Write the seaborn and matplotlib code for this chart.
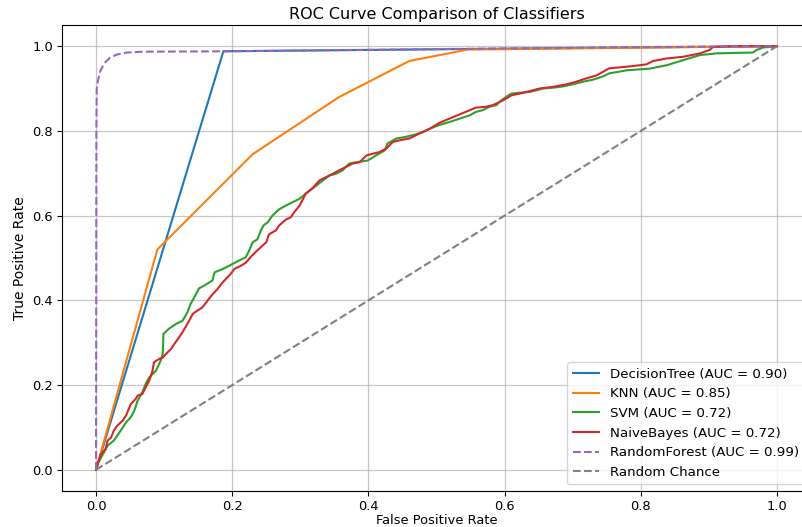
import matplotlib
matplotlib.use("Agg")
import matplotlib.pyplot as plt
import seaborn as sns
import pandas as pd

# ---------------- data ----------------
classifiers = ["DecisionTree", "KNN", "SVM", "NaiveBayes", "RandomForest"]
auc_values = [0.90, 0.85, 0.72, 0.72, 0.99]

dt_fpr = [0.0, 0.187, 1.0]
dt_tpr = [0.0, 0.988, 1.0]

knn_fpr = [0.0, 0.09, 0.23, 0.357, 0.46, 0.546, 1.0]
knn_tpr = [0.0, 0.52, 0.745, 0.88, 0.965, 0.992, 1.0]

svm_fpr = [0.0, 0.002, 0.017, 0.026, 0.036, 0.044, 0.051, 0.056, 0.061, 0.068,
           0.073, 0.078, 0.088, 0.095, 0.098, 0.099, 0.107, 0.117, 0.127, 0.134,
           0.139, 0.147, 0.151, 0.161, 0.171, 0.174, 0.186, 0.196, 0.210, 0.220,
           0.225, 0.230, 0.237, 0.242, 0.246, 0.252, 0.259, 0.269, 0.279, 0.289,
           0.299, 0.308, 0.318, 0.333, 0.343, 0.353, 0.362, 0.372, 0.382, 0.399,
           0.411, 0.424, 0.428, 0.441, 0.455, 0.470, 0.480, 0.490, 0.504, 0.519,
           0.534, 0.549, 0.558, 0.568, 0.578, 0.588, 0.595, 0.602, 0.610, 0.622,
           0.637, 0.647, 0.656, 0.671, 0.686, 0.700, 0.715, 0.730, 0.745, 0.754,
           0.769, 0.779, 0.813, 0.838, 0.862, 0.887, 0.911, 0.936, 0.965, 0.970,
           0.980, 1.0]
svm_tpr = [0.0, 0.013, 0.057, 0.069, 0.092, 0.112, 0.124, 0.139, 0.163, 0.183,
           0.203, 0.218, 0.234, 0.258, 0.274, 0.321, 0.333, 0.344, 0.352, 0.371,
           0.392, 0.415, 0.428, 0.437, 0.447, 0.466, 0.474, 0.482, 0.494, 0.502,
           0.518, 0.537, 0.544, 0.565, 0.577, 0.584, 0.600, 0.615, 0.624, 0.632,
           0.640, 0.652, 0.664, 0.683, 0.695, 0.699, 0.707, 0.723, 0.726, 0.730,
           0.742, 0.754, 0.770, 0.782, 0.786, 0.792, 0.797, 0.805, 0.814, 0.821,
           0.829, 0.837, 0.845, 0.849, 0.857, 0.861, 0.872, 0.880, 0.888, 0.890,
           0.892, 0.896, 0.900, 0.902, 0.905, 0.910, 0.916, 0.921, 0.929, 0.936,
           0.940, 0.943, 0.947, 0.955, 0.967, 0.979, 0.983, 0.984, 0.985, 0.991,
           0.997, 1.0]

nb_fpr = [0.0, 0.001, 0.007, 0.014, 0.017, 0.022, 0.026, 0.031, 0.039, 0.044,
          0.051, 0.058, 0.061, 0.068, 0.073, 0.078, 0.083, 0.085, 0.093, 0.098,
          0.103, 0.110, 0.115, 0.122, 0.127, 0.134, 0.142, 0.149, 0.156, 0.164,
          0.171, 0.178, 0.184, 0.191, 0.198, 0.203, 0.213, 0.220, 0.228, 0.235,
          0.245, 0.250, 0.254, 0.264, 0.269, 0.279, 0.286, 0.291, 0.299, 0.308,
          0.318, 0.328, 0.338, 0.348, 0.357, 0.367, 0.377, 0.387, 0.397, 0.406,
          0.416, 0.426, 0.436, 0.446, 0.460, 0.475, 0.490, 0.504, 0.519, 0.534,
          0.549, 0.558, 0.573, 0.583, 0.595, 0.602, 0.610, 0.622, 0.637, 0.651,
          0.671, 0.691, 0.705, 0.720, 0.735, 0.744, 0.754, 0.769, 0.788, 0.808,
          0.818, 0.838, 0.862, 0.887, 0.901, 0.906, 0.936, 1.0]
nb_tpr = [0.0, 0.007, 0.037, 0.049, 0.069, 0.076, 0.092, 0.104, 0.116, 0.128,
          0.155, 0.167, 0.175, 0.179, 0.195, 0.210, 0.234, 0.254, 0.262, 0.265,
          0.274, 0.285, 0.297, 0.313, 0.325, 0.344, 0.368, 0.376, 0.383, 0.400,
          0.414, 0.426, 0.439, 0.451, 0.463, 0.474, 0.482, 0.489, 0.504, 0.515,
          0.530, 0.537, 0.556, 0.565, 0.577, 0.591, 0.596, 0.608, 0.624, 0.652,
          0.665, 0.683, 0.691, 0.699, 0.707, 0.715, 0.723, 0.726, 0.742, 0.746,
          0.750, 0.758, 0.774, 0.778, 0.782, 0.794, 0.805, 0.819, 0.829, 0.839,
          0.849, 0.855, 0.857, 0.861, 0.870, 0.876, 0.884, 0.888, 0.894, 0.900,
          0.904, 0.910, 0.916, 0.924, 0.931, 0.939, 0.948, 0.950, 0.953, 0.957,
          0.965, 0.971, 0.975, 0.983, 0.991, 0.998, 1.0, 1.0]

rf_fpr = [0.0, 0.0005, 0.001, 0.003, 0.006, 0.012, 0.02, 0.03, 0.045, 0.07,
          0.2, 0.5, 0.8, 1.0]
rf_tpr = [0.0, 0.80, 0.90, 0.92, 0.94, 0.96, 0.972, 0.98, 0.985, 0.987,
          0.988, 0.993, 0.998, 1.0]

chance_fpr = [0.0, 1.0]
chance_tpr = [0.0, 1.0]

x_ticks = [0.0, 0.2, 0.4, 0.6, 0.8, 1.0]
y_ticks = [0.0, 0.2, 0.4, 0.6, 0.8, 1.0]

# ---------------- plot ----------------
fig = plt.figure(figsize=(8.03, 5.27), dpi=100)
ax = fig.add_axes([62 / 803, 36 / 527, 749 / 803, 466 / 527])

curves = [(dt_fpr, dt_tpr), (knn_fpr, knn_tpr), (svm_fpr, svm_tpr),
          (nb_fpr, nb_tpr), (rf_fpr, rf_tpr)]
colors = ["#1f77b4", "#ff7f0e", "#2ca02c", "#d62728", "#9467bd"]
styles = ["-", "-", "-", "-", "--"]

for name, auc, (fx, ty), c, ls in zip(classifiers, auc_values, curves, colors, styles):
    df = pd.DataFrame({"fpr": fx, "tpr": ty})
    sns.lineplot(data=df, x="fpr", y="tpr", ax=ax, color=c, linestyle=ls,
                 linewidth=1.5, estimator=None, sort=False,
                 label=f"{name} (AUC = {auc:.2f})")

sns.lineplot(x=chance_fpr, y=chance_tpr, ax=ax, color="gray", linestyle="--",
             linewidth=1.5, estimator=None, sort=False, label="Random Chance")

ax.set_xlim(-0.05, 1.05)
ax.set_ylim(-0.05, 1.05)
ax.set_xticks(x_ticks)
ax.set_yticks(y_ticks)
ax.tick_params(labelsize=9.4, pad=3)
ax.grid(True, color="#b0b0b0", alpha=0.7, linewidth=0.9)
ax.set_xlabel("False Positive Rate", fontsize=9.4, labelpad=1)
ax.set_ylabel("True Positive Rate", fontsize=10,
              family=["Liberation Sans Narrow", "DejaVu Sans"], labelpad=4)
ax.set_title("ROC Curve Comparison of Classifiers", fontsize=11.5, pad=4)
ax.legend(loc="lower right", fontsize=9.6)

fig.savefig("out.png", dpi=100)
